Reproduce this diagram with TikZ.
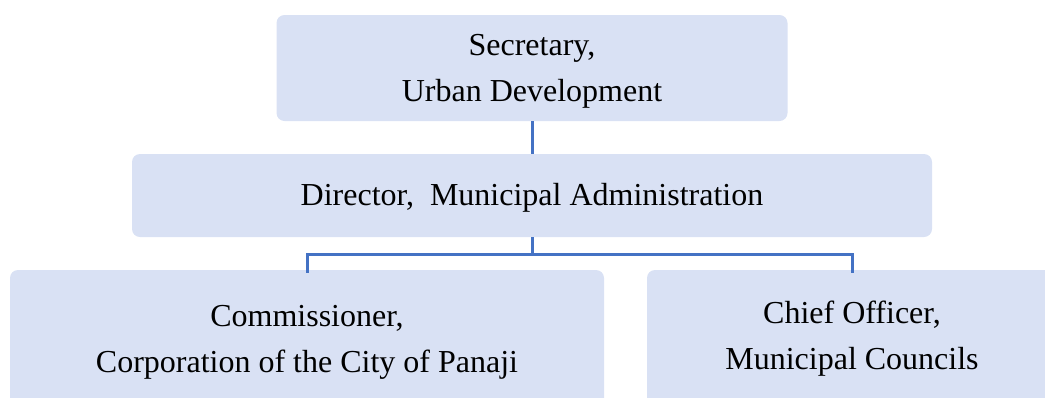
\documentclass[tikz,border=0pt]{standalone}
\usepackage{fontspec}
\setmainfont{Liberation Serif}
\definecolor{boxfill}{HTML}{D9E1F4}
\definecolor{linecol}{HTML}{4472C4}
\newcommand\lowerby[1]{\rule{0pt}{\dimexpr\fontcharht\font`l+#1\relax}}
\begin{document}
\begin{tikzpicture}[x=1pt,y=-1pt,
  orgbox/.style={fill=boxfill, draw=none, rounded corners=8pt, align=center, inner sep=0pt,
     font=\fontsize{32}{46}\selectfont},
  conn/.style={draw=linecol, line width=3pt}]
\useasboundingbox (0,0) rectangle (1045,397);
\clip (0,0) rectangle (1045,397);
\node[orgbox, minimum width=511pt, minimum height=106pt] (top) at (532,68) {\lowerby{7pt}Secretary,\\Urban Development};
\node[orgbox, minimum width=800pt, minimum height=83pt] (mid) at (532,195.5) {\lowerby{6pt}Director,\ \ Municipal Administration};
\node[orgbox, minimum width=594pt, minimum height=140pt] (bl) at (307,340) {\lowerby{4pt}Commissioner,\\Corporation of the City of Panaji};
\node[orgbox, minimum width=410pt, minimum height=136pt] (br) at (852,338) {\lowerby{3pt}Chief Officer,\\Municipal Councils};
\draw[conn] (top.south) -- (mid.north);
\draw[conn] (mid.south) -- ++(0,17) coordinate (j);
\draw[conn] ([yshift=-3pt]bl.north) |- (j) -| ([yshift=-3pt]br.north);
\end{tikzpicture}
\end{document}
